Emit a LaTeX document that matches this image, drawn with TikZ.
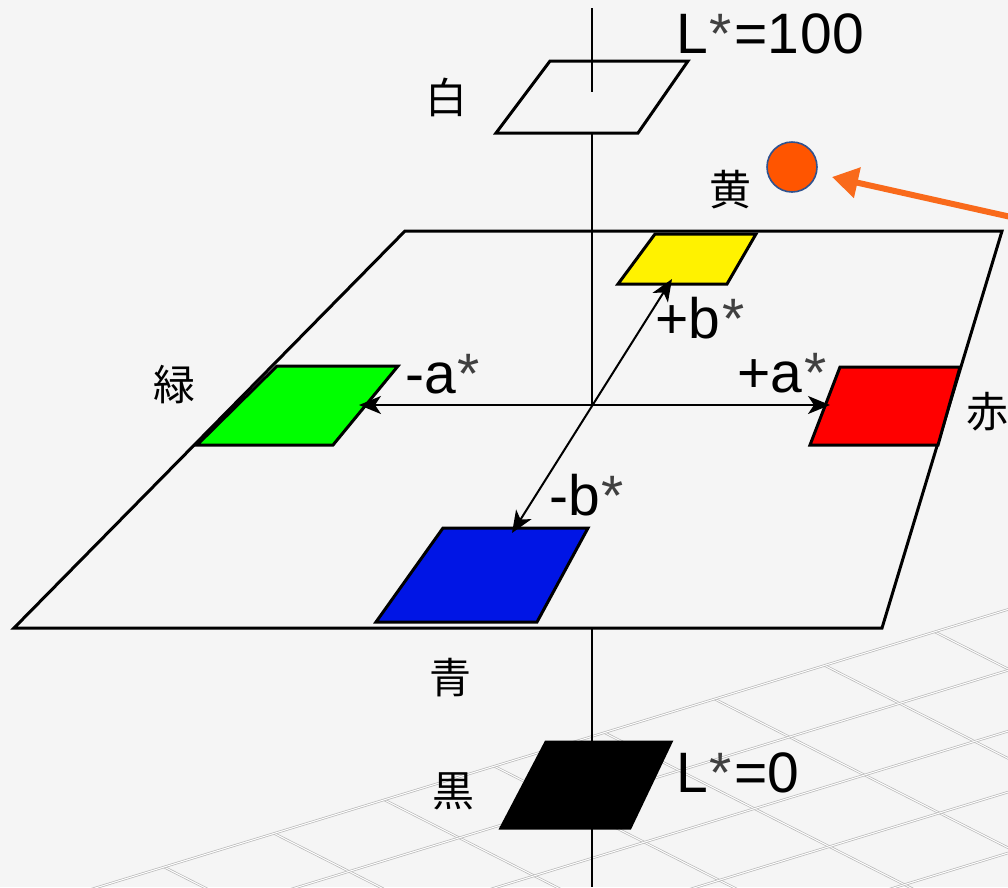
\documentclass[tikz,border=0pt]{standalone}
\usepackage{fontspec}
\setmainfont{Liberation Sans}
\newfontfamily\jpfont{Noto Sans CJK JP}
\usetikzlibrary{arrows.meta}
\definecolor{bgc}{HTML}{F5F5F5}
\definecolor{dotc}{HTML}{FF5500}
\definecolor{rimc}{HTML}{2F528F}
\definecolor{arrc}{HTML}{F96A1B}
\definecolor{bluec}{HTML}{0015E5}
\newcommand\lstar{\kern2pt\textcolor{black!75}{*}}

\begin{document}
\begin{tikzpicture}[x=1pt,y=-1pt,
  patch/.style={draw=black,line width=3pt,line join=miter},
  axisline/.style={line width=2pt},
  tile/.style={draw=black!28,double=white,double distance=1pt,line width=0.7pt},
  jp/.style={font=\jpfont\fontsize{42}{42}\selectfont,inner sep=0pt},
  lat/.style={font=\fontsize{57}{57}\selectfont,inner sep=0pt,anchor=base west},
  tip/.style={{Stealth[length=22pt,width=18pt,inset=6pt]}-{Stealth[length=22pt,width=18pt,inset=6pt]}}]
\useasboundingbox (0,0) rectangle (1008,887);
\clip (0,0) rectangle (1008,887);
\fill[bgc] (0,0) rectangle (1008,887);
\foreach \k in {0,...,8}
  \draw[tile] ({164+110.1*\k},{867-33.6*\k}) -- ++(450,228);
\foreach \j in {0,...,5}
  \draw[tile] ({164+75*\j-110.1},{867+38*\j+33.6}) -- ++(1101,-336);
\coordinate (Ltop) at (592,8);
\coordinate (Lbot) at (592,887);
\coordinate (O) at (592,405);
\draw[axisline] (Ltop) -- (Lbot);
\filldraw[patch,fill=bgc] (405,231) -- (1002,231) -- (882,628) -- (14,628) -- cycle;
\draw[axisline] (592,231) -- (O);
\filldraw[patch,fill=bgc] (550,61) -- (688,61) -- (638,133) -- (496,133) -- cycle;
\draw[axisline] (Ltop) -- (592,92);
\filldraw[patch,fill=yellow] (655,234) -- (756,234) -- (727,284) -- (618,284) -- cycle;
\filldraw[patch,fill=green] (277,366) -- (398,366) -- (333,445) -- (197,445) -- cycle;
\filldraw[patch,fill=red] (840,367) -- (960,367) -- (938,445) -- (810,445) -- cycle;
\filldraw[patch,fill=bluec] (443,528) -- (588,528) -- (537,622) -- (376,622) -- cycle;
\filldraw[patch,fill=black] (546,742) -- (671,742) -- (630,828) -- (501,828) -- cycle;
\coordinate (aneg) at (359,405);
\coordinate (apos) at (830,405);
\coordinate (bneg) at (512,533);
\coordinate (bpos) at (672,279);
\draw[axisline,tip] (aneg) -- (apos);
\draw[axisline,tip] (bneg) -- (bpos);
\node[circle,fill=dotc,draw=rimc,line width=1.6pt,minimum size=50pt,inner sep=0pt] (dot) at (792,167) {};
\coordinate (ptr) at (832,177);
\coordinate (ptrstart) at (1020,219);
\draw[arrc,line width=6pt,-{Triangle[length=26pt,width=30pt]}] (ptrstart) -- (ptr);
\node[lat] (Lw) at (676,53) {L\lstar\kern2pt=1\kern1pt0\kern1pt0};
\node[lat] (Lk) at (676,792) {L\lstar\kern2pt=0};
\node[lat] (bp) at (655,338) {+b\lstar};
\node[lat] (bm) at (549,515) {-b\lstar};
\node[lat] (am) at (405,393) {-a\lstar};
\node[lat] (ap) at (737,392) {+a\lstar};
\node[jp] (wlab) at (446,97) {白};
\node[jp] (ylab) at (730,190) {黄};
\node[jp] (glab) at (174,385) {緑};
\node[jp] (rlab) at (987,412) {赤};
\node[jp] (blab) at (450,678) {青};
\node[jp] (klab) at (453,791) {黒};
\end{tikzpicture}
\end{document}
